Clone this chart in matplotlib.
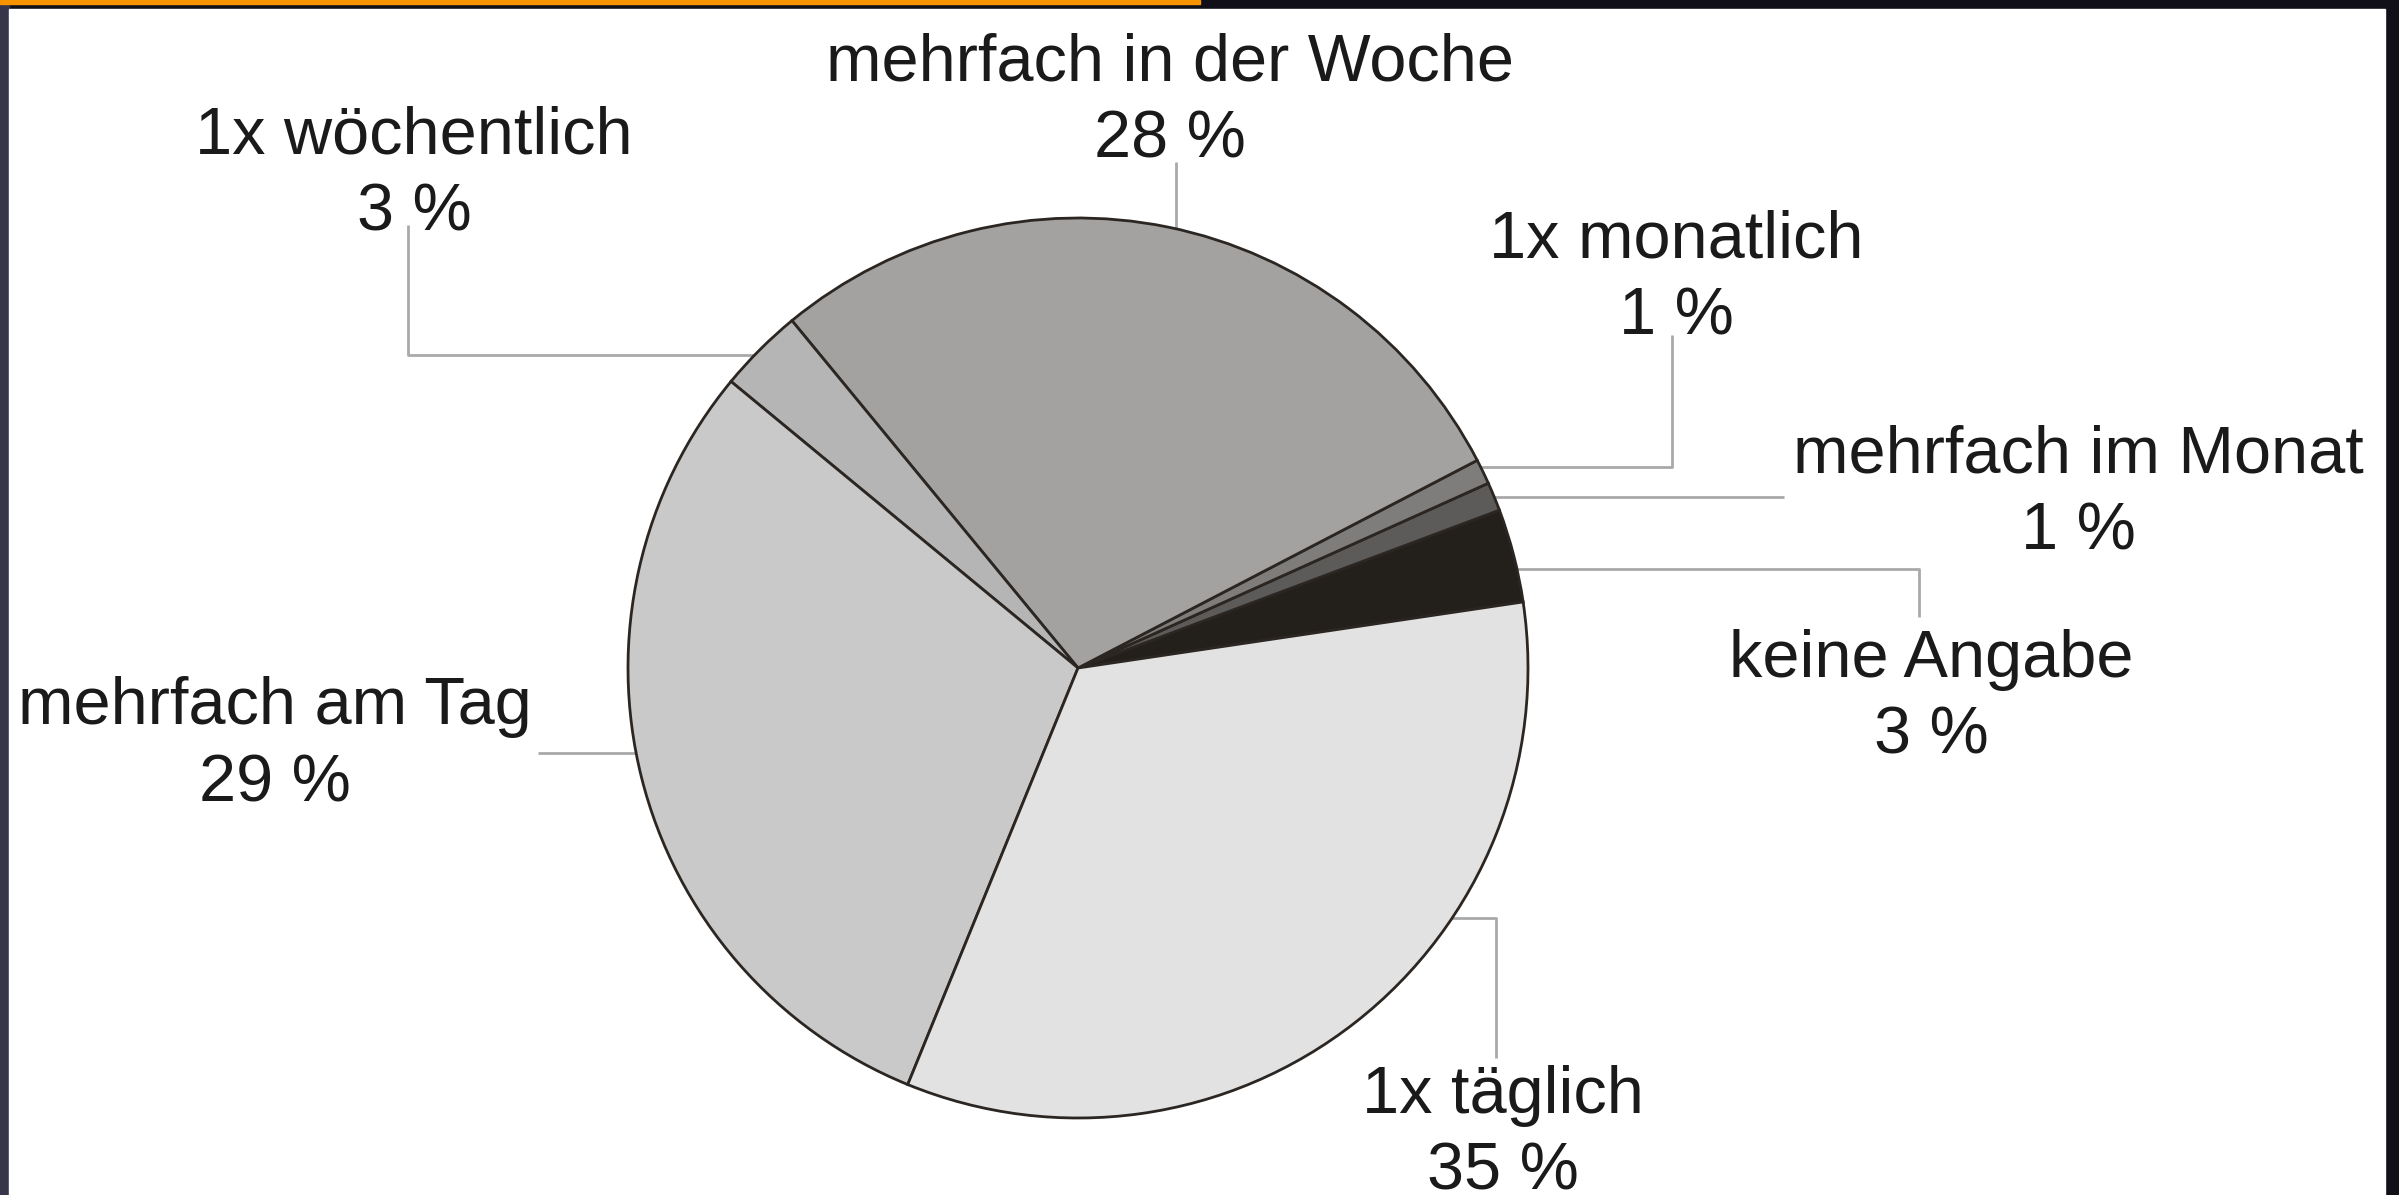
import numpy as np
import matplotlib
matplotlib.use("Agg")
import matplotlib.pyplot as plt
from matplotlib.patches import Rectangle

# Werte (Reihenfolge gegen den Uhrzeigersinn)
categories = ["keine Angabe", "mehrfach im Monat", "1x monatlich",
              "mehrfach in der Woche", "1x wöchentlich", "mehrfach am Tag",
              "1x täglich"]
shares = [3.36, 1.03, 0.90, 28.33, 3.05, 29.81, 33.52]
pct_labels = ["3 %", "1 %", "1 %", "28 %", "3 %", "29 %", "35 %"]
colors = ["#231f1b", "#5d5b59", "#7f7d7b", "#a3a2a1", "#b5b5b5", "#c9c9c9", "#e2e2e2"]

# Layout in Pixeln (y von oben gemessen)
W, H = 2399, 1195
cx, cy, r = 1078, 668, 450
anchor_frac = [0.35, 0.5, 0.70, 0.49, 0.58, 0.47, 0.65]
elbow_x = [1919, 1784, 1672, None, 408, 538, 1496]
end_y = [617, None, 335, 162, 225, None, 1058]
text_x = [1931, 2078, 1676, 1170, 414, 275, 1503]
text_base = [677, 472, 257, 80, 153, 724, 1113]
line_gap = 77


def up(y):
    return H - y


plt.rcParams['font.family'] = ['Liberation Sans', 'DejaVu Sans']

fig = plt.figure(figsize=(W / 100, H / 100), dpi=100, facecolor="#111018")
# Rahmen / Hintergrund
fig.patches.append(Rectangle((0, 0), 9 / W, 1, transform=fig.transFigure,
                             color="#37354a", zorder=-3))
fig.patches.append(Rectangle((9 / W, 0), (2385 - 9) / W, (H - 9) / H,
                             transform=fig.transFigure, color="white", zorder=-2))
fig.patches.append(Rectangle((0, (H - 4) / H), 1200 / W, 4 / H,
                             transform=fig.transFigure, color="#f79400", zorder=-1))

ax = fig.add_axes([0, 0, 1, 1])
ax.set_zorder(5)
ax.patch.set_alpha(0)

wedges, _ = ax.pie(shares, colors=colors, startangle=8.44, counterclock=True,
                   center=(cx, up(cy)), radius=r,
                   wedgeprops=dict(edgecolor="#2b2622", linewidth=2.0))

ax.set_xlim(0, W)
ax.set_ylim(0, H)
ax.set_aspect("equal")
ax.axis("off")

for i, w in enumerate(wedges):
    ang = np.deg2rad(w.theta1 + anchor_frac[i] * (w.theta2 - w.theta1))
    ax0 = cx + r * np.cos(ang)
    ay0 = up(cy) + r * np.sin(ang)
    xs, ys = [ax0], [ay0]
    if elbow_x[i] is not None:
        xs.append(elbow_x[i])
        ys.append(ay0)
    if end_y[i] is not None:
        xs.append(xs[-1])
        ys.append(up(end_y[i]))
    ax.plot(xs, ys, color="#a9a9a9", linewidth=2.0, zorder=0.5,
            solid_capstyle="butt")

    ax.text(text_x[i], up(text_base[i]), categories[i], ha="center",
            va="baseline", fontsize=48, color="#1a1a1a")
    ax.text(text_x[i], up(text_base[i] + line_gap), pct_labels[i], ha="center",
            va="baseline", fontsize=48, color="#1a1a1a")

fig.savefig("out.png", dpi=100, facecolor=fig.get_facecolor())
